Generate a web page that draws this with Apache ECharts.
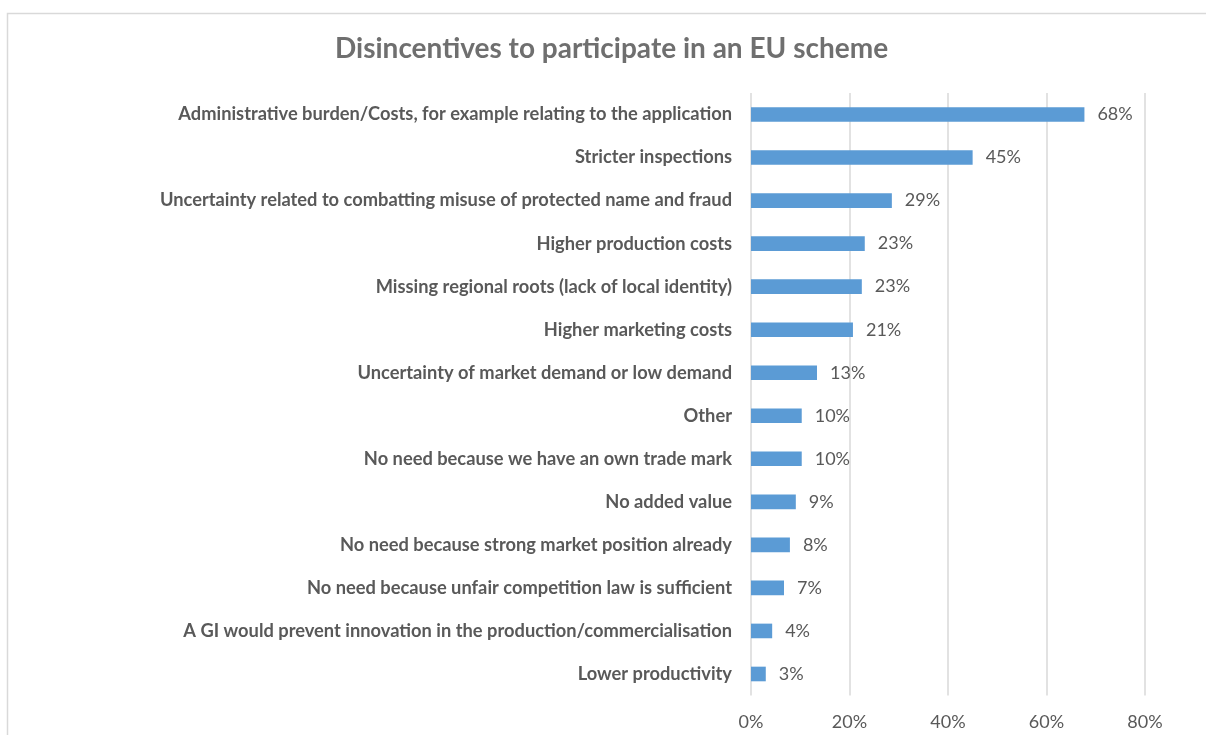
<!DOCTYPE html>
<html>
<head>
<meta charset="utf-8">
<script src="https://cdn.jsdelivr.net/npm/echarts@6/dist/echarts.min.js"></script>
<style>html,body{margin:0;padding:0;background:#fff}#c{width:1206px;height:735px}</style>
</head>
<body>
<div id="c"></div>
<script>
const titleText = 'Disincentives to participate in an EU scheme';
const categories = [
  'Administrative burden/Costs, for example relating to the application',
  'Stricter inspections',
  'Uncertainty related to combatting misuse of protected name and fraud',
  'Higher production costs',
  'Missing regional roots (lack of local identity)',
  'Higher marketing costs',
  'Uncertainty of market demand or low demand',
  'Other',
  'No need because we have an own trade mark',
  'No added value',
  'No need because strong market position already',
  'No need because unfair competition law is sufficient',
  'A GI would prevent innovation in the production/commercialisation',
  'Lower productivity'
];
const values = [67.7, 45.0, 28.6, 23.1, 22.5, 20.7, 13.4, 10.3, 10.3, 9.1, 7.9, 6.7, 4.3, 3.0];
const xTicks = [0, 20, 40, 60, 80];

const FONT = 'Lato';
const chart = echarts.init(document.getElementById('c'));
chart.setOption({
  backgroundColor: '#fff',
  animation: false,
  title: {
    text: titleText, left: 330, top: 30,
    textStyle: {fontFamily: FONT, fontSize: 28, fontWeight: 'bold', color: '#6f6f6f'}
  },
  graphic: [{
    type: 'rect', silent: true, z: -1,
    shape: {x: 7.5, y: 13.5, width: 1400, height: 900},
    style: {fill: 'none', stroke: '#d9d9d9', lineWidth: 1.5}
  }],
  grid: {left: 751, right: 61, top: 93, bottom: 39.5, containLabel: false},
  xAxis: {
    type: 'value', min: xTicks[0], max: xTicks[xTicks.length - 1], interval: 20,
    axisLine: {show: false}, axisTick: {show: false},
    splitLine: {show: true, lineStyle: {color: '#d9d9d9', width: 1.5}},
    axisLabel: {formatter: v => v + '%', fontFamily: FONT, fontSize: 18, color: '#595959', margin: 18}
  },
  yAxis: {
    type: 'category', data: categories, inverse: true,
    axisLine: {show: false}, axisTick: {show: false},
    axisLabel: {fontFamily: FONT, fontSize: 18.3, fontWeight: 'bold', color: '#595959', margin: 19,
      padding: [2, 0, 0, 0]}
  },
  series: [{
    type: 'bar', data: values, barWidth: '34%',
    itemStyle: {color: '#5b9bd5'},
    label: {show: true, position: 'right', distance: 13, formatter: p => Math.round(p.value) + '%',
      fontFamily: FONT, fontSize: 18, color: '#595959', padding: [2, 0, 0, 0]}
  }]
});
</script>
</body>
</html>
